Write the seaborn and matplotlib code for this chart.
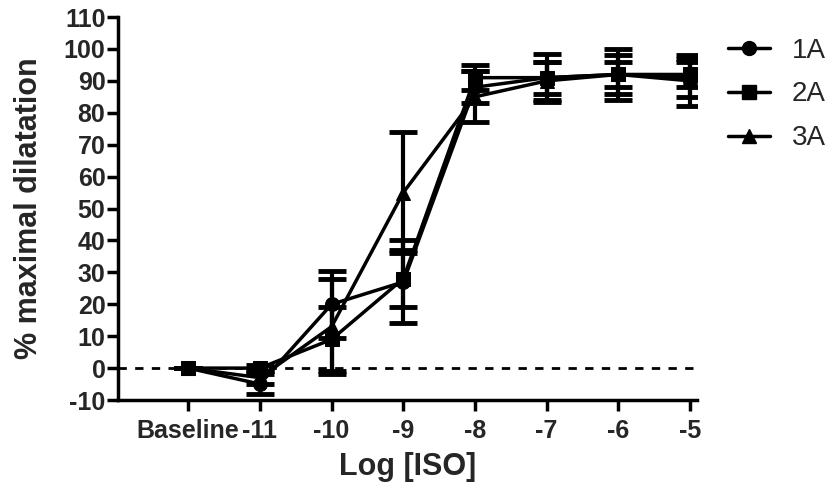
import matplotlib
matplotlib.use("Agg")
import matplotlib.pyplot as plt
from matplotlib.lines import Line2D
import seaborn as sns
import numpy as np
import pandas as pd

categories = ["Baseline", "-11", "-10", "-9", "-8", "-7", "-6", "-5"]
series_names = ["1A", "2A", "3A"]
mean_1a = [0, -5, 20, 27, 88, 91, 92, 90]
err_1a = [0, 3, 10.5, 13, 5, 5, 8, 8]
mean_2a = [0, 0, 9, 28, 91, 91, 92, 92]
err_2a = [0, 1, 10, 9, 4, 7.5, 6, 4]
mean_3a = [0, -3, 13, 55, 85, 90, 92, 91]
err_3a = [0, 2, 15, 19, 8, 6, 4, 6]
yticks = list(range(-10, 111, 10))
markers = {"1A": "o", "2A": "s", "3A": "^"}

sns.set_theme(style="ticks")
plt.rcParams["font.family"] = ["Liberation Sans", "DejaVu Sans"]

frames = []
for name, m, e in zip(series_names, [mean_1a, mean_2a, mean_3a], [err_1a, err_2a, err_3a]):
    frames.append(pd.DataFrame({"pos": np.arange(len(categories)), "value": m, "err": e, "series": name}))
df = pd.concat(frames, ignore_index=True)

fig = plt.figure(figsize=(8.35, 4.96), dpi=100)
ax = fig.add_axes([0.1413, 0.1935, 0.6937, 0.7722])

ax.axhline(0, color="black", linestyle=(0, (3, 3)), linewidth=2, zorder=1)

for name in series_names:
    sub = df[df.series == name]
    ax.errorbar(sub["pos"], sub["value"], yerr=sub["err"], fmt="none", ecolor="black",
                elinewidth=3, capsize=10, capthick=3.5, zorder=2)

sns.lineplot(data=df, x="pos", y="value", style="series", markers=markers, dashes=False,
             color="black", markersize=10, linewidth=2.5, markeredgecolor="black",
             legend=False, ax=ax, zorder=3)

ax.set_xlim(-0.98, 7.1)
ax.set_ylim(-10, 110)
ax.set_yticks(yticks)
ax.set_yticklabels([str(v) for v in yticks], fontsize=18, fontweight="bold")
ax.set_xticks(np.arange(len(categories)))
ax.set_xticklabels(categories, fontsize=18, fontweight="bold")
ax.tick_params(axis="both", direction="out", length=8, width=2.5, color="black")
ax.tick_params(axis="y", pad=1)
ax.tick_params(axis="x", pad=6)
for s in ["left", "bottom"]:
    ax.spines[s].set_linewidth(2.5)
    ax.spines[s].set_color("black")
sns.despine(ax=ax)
ax.set_xlabel("Log [ISO]", fontsize=22, fontweight="bold", labelpad=6)
ax.set_ylabel("% maximal dilatation", fontsize=22, fontweight="bold", labelpad=14)

handles = [Line2D([], [], color="black", linewidth=2.5, marker=markers[n], markersize=10) for n in series_names]
ax.legend(handles, series_names, loc="upper left", bbox_to_anchor=(0.872, 0.924),
          bbox_transform=fig.transFigure, frameon=False, fontsize=20, handlelength=1.5,
          labelspacing=0.64, handletextpad=0.8, borderpad=0, borderaxespad=0)

fig.savefig("out.png", dpi=100)
